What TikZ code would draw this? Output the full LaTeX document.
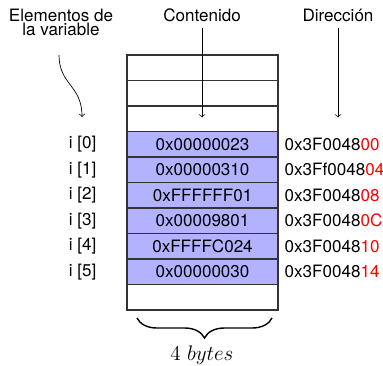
\documentclass[tikz,border=0pt]{standalone}
\usepackage{fontspec}
\setmainfont{TeX Gyre Heros}
\usetikzlibrary{positioning,decorations.pathreplacing}

\tikzset{
    celda/.style={draw=black!80, line width=0.6pt, minimum width=3.02cm, minimum height=0.51cm, inner sep=0pt},
    ocupada/.style={celda, fill=blue!30},
    etiqueta/.style={font=\fontsize{9.7}{8.5}\selectfont}
}

\begin{document}
\begin{tikzpicture}[font=\fontsize{9.7}{8.5}\selectfont]
            \useasboundingbox (0,0) rectangle (7.66,7.30);

            % Memory column (empty cells)
            \foreach \k in {0,1,2,9}
                \node [celda] (m\k) at (4.05, 5.945-0.51*\k) {};

            % Array elements
            \foreach \k/\val in {3/0x00000023, 4/0x00000310, 5/0xFFFFFF01, 6/0x00009801, 7/0xFFFFC024, 8/0x00000030}
                \node [ocupada] (m\k) at (4.05, 5.945-0.51*\k) {\val};

            % Index labels and addresses
            \foreach \k/\i/\pre/\suf in {3/0/0x3F0048/00, 4/1/0x3Ff0048/04, 5/2/0x3F0048/08, 6/3/0x3F0048/0C, 7/4/0x3F0048/10, 8/5/0x3F0048/14} {
                \node [etiqueta, left=0.48cm of m\k] (e\i) {i [\i]};
                \node [etiqueta, right=0pt of m\k] (d\i) {\pre\textcolor{red}{\suf}};
            }

            % Headers
            \node [etiqueta, align=center, anchor=base] (elem) at (1.22, 6.58) {Elementos de\\la variable};
            \node [etiqueta, anchor=base, text depth=0pt] (cont) at (4.04, 6.86) {Contenido};
            \node [etiqueta, anchor=base, text depth=0pt] (dir) at (6.76, 6.86) {Dirección};

            % Arrows
            \coordinate (w0) at (1.18, 6.2);
            \coordinate (w1) at (1.64, 4.96);
            \draw [->] (w0) .. controls (1.18, 5.6) and (1.64, 5.6) .. (w1);
            \draw [->] (cont.south) -- ([yshift=0.27cm]cont |- m3.north);
            \draw [->] (dir.south) -- ([yshift=0.27cm]dir |- m3.north);

            % Size of one element
            \coordinate (b0) at (2.74, 0.94);
            \coordinate (b1) at (5.44, 0.94);
            \draw [thick, decorate, decoration={brace, mirror, amplitude=0.4cm}] (b0) -- (b1);
            \node [anchor=base] (tam) at (4.04, 0.1) {\fontsize{13}{15}\selectfont $4\ bytes$};
\end{tikzpicture}
\end{document}
